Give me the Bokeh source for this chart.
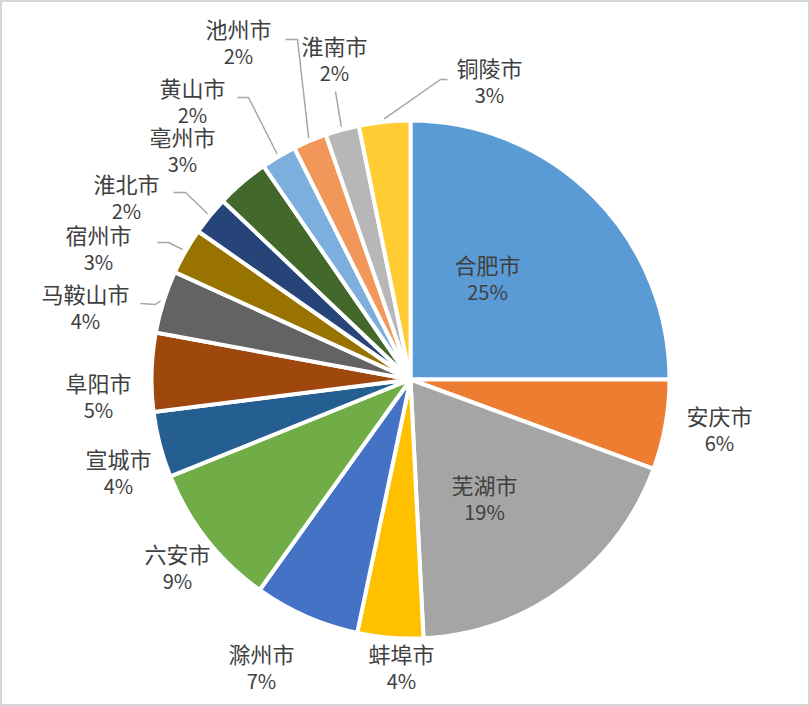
import math
from bokeh.plotting import figure
from bokeh.models import Range1d, ColumnDataSource
from bokeh.core.properties import value
from bokeh.embed import file_html
from bokeh.resources import INLINE

# ---------------- data ----------------
cities = ["合肥市", "安庆市", "芜湖市", "蚌埠市", "滁州市", "六安市", "宣城市", "阜阳市",
          "马鞍山市", "宿州市", "淮北市", "亳州市", "黄山市", "池州市", "淮南市", "铜陵市"]
shares = [25.0, 5.6, 18.6, 4.1, 6.6, 9.0, 4.1, 4.9,
          3.9, 2.9, 2.4, 3.3, 2.2, 2.1, 2.1, 3.2]

# ---------------- styles / layout ----------------
colors = ["#5B9BD5", "#ED7D31", "#A5A5A5", "#FFC000", "#4472C4", "#70AD47", "#255E91", "#9E480E",
          "#636363", "#997300", "#264478", "#43682B", "#7CAFDD", "#F1975A", "#B7B7B7", "#FFCD33"]

W, H = 810, 706
CX, CY = 410, 379          # pie centre in page pixels
R = 259                    # pie radius (px)
FONT = "Noto Sans CJK SC"
LINE_GAP = 28

# label (name line) centres in page pixels
label_px = {
    "合肥市": (487, 263), "安庆市": (719, 414), "芜湖市": (484, 483), "蚌埠市": (401, 652),
    "滁州市": (261, 652), "六安市": (177, 552), "宣城市": (118, 457), "阜阳市": (98, 381),
    "马鞍山市": (85, 292), "宿州市": (98, 233), "淮北市": (126, 182), "亳州市": (182, 135),
    "黄山市": (192, 86), "池州市": (238, 27), "淮南市": (334, 44), "铜陵市": (489, 66),
}
# leader line start / elbow in page pixels (end is computed on the rim)
leader_px = {
    "铜陵市": [(447, 79), (440, 79)],
    "淮南市": [(335, 91), (335, 91)],
    "池州市": [(285, 39), (297, 39)],
    "黄山市": [(237, 97), (248, 97)],
    "淮北市": [(173, 192), (185, 192)],
    "宿州市": [(157, 242), (168, 242)],
    "马鞍山市": [(140, 303), (155, 304)],
}


def to_data(px, py):
    return px - CX, CY - py


total = sum(shares)
starts, ends, mids = [], [], []
cum = 0.0
for s in shares:
    a0 = math.pi / 2 - 2 * math.pi * cum / total
    cum += s
    a1 = math.pi / 2 - 2 * math.pi * cum / total
    starts.append(a0)
    ends.append(a1)
    mids.append((a0 + a1) / 2)

src = ColumnDataSource(dict(start=starts, end=ends, color=colors, city=cities))

p = figure(width=W, height=H, output_backend="svg", toolbar_location=None,
           x_range=Range1d(-CX, W - CX), y_range=Range1d(CY - H, CY),
           min_border=0, background_fill_color="white", border_fill_color="white")
p.axis.visible = False
p.grid.visible = False
p.outline_line_color = "#d6d6d6"
p.outline_line_width = 3

p.wedge(x=0, y=0, radius=R, start_angle="start", end_angle="end", direction="clock",
        fill_color="color", line_color="white", line_width=4, source=src)

# leader lines
xs, ys = [], []
for i, c in enumerate(cities):
    if c in leader_px:
        pts = [to_data(*q) for q in leader_px[c]]
        rx = (R + 3) * math.cos(mids[i])
        ry = (R + 3) * math.sin(mids[i])
        pts.append((rx, ry))
        xs.append([q[0] for q in pts])
        ys.append([q[1] for q in pts])
p.multi_line(xs=xs, ys=ys, line_color="#a6a6a6", line_width=1.5)

# labels
nx, ny, px_, py_, names, pcts = [], [], [], [], [], []
for i, c in enumerate(cities):
    lx, ly = to_data(*label_px[c])
    nx.append(lx); ny.append(ly)
    px_.append(lx); py_.append(ly - LINE_GAP)
    names.append(c)
    pcts.append(f"{round(shares[i] / total * 100)}%")

p.text(x=nx, y=ny, text=names, text_align="center", text_baseline="middle",
       text_font=value(FONT), text_font_size="22px", text_color="#404040")
p.text(x=px_, y=py_, text=pcts, text_align="center", text_baseline="middle",
       text_font=value(FONT), text_font_size="20px", text_color="#404040")

open("out.html", "w").write(file_html(p, INLINE))
